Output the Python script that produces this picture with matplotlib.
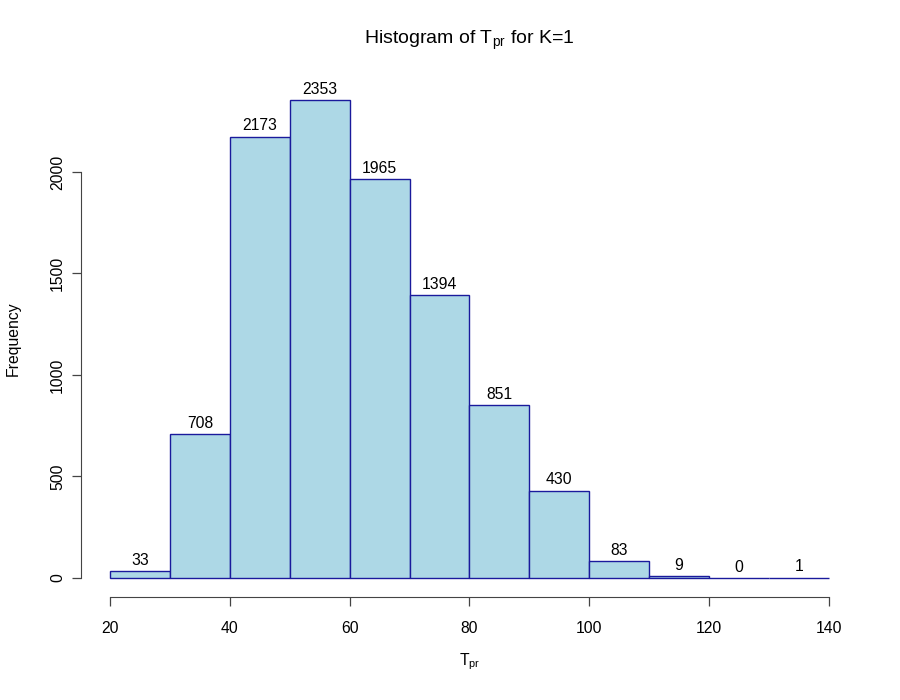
import numpy as np
import matplotlib
matplotlib.use("Agg")
import matplotlib.pyplot as plt

plt.rcParams['font.family'] = ['Liberation Sans', 'DejaVu Sans']
plt.rcParams['mathtext.fontset'] = 'custom'
plt.rcParams['mathtext.rm'] = 'Liberation Sans'

bin_edges = [20, 30, 40, 50, 60, 70, 80, 90, 100, 110, 120, 130, 140]
counts = [33, 708, 2173, 2353, 1965, 1394, 851, 430, 83, 9, 0, 1]
x_ticks = [20, 40, 60, 80, 100, 120, 140]
y_ticks = [0, 500, 1000, 1500, 2000]

fs = 11.3
fig = plt.figure(figsize=(9, 7), dpi=100)
ax = fig.add_axes([0.0902, 0.147, 0.953 - 0.0902, 0.884 - 0.147])
cx = (0.0902 + 0.953) / 2
cy = (0.147 + 0.884) / 2

edges = np.array(bin_edges)
ax.bar(edges[:-1], counts, width=np.diff(edges), align='edge',
       color='#ADD8E6', edgecolor='#1a1a9c', linewidth=1.0)

for left, w, c in zip(edges[:-1], np.diff(edges), counts):
    ax.annotate(str(c), (left + w / 2, c), xytext=(0, 2.5), textcoords='offset points',
                ha='center', va='bottom', fontsize=fs)

ax.set_xlim(15.2, 144.8)
ax.set_ylim(-94.1, 2447.1)
ax.set_xticks(x_ticks)
ax.set_yticks(y_ticks)
ax.set_yticklabels([str(v) for v in y_ticks], rotation=90, va='center')
for s in ['top', 'right']:
    ax.spines[s].set_visible(False)
ax.spines['bottom'].set_bounds(20, 140)
ax.spines['left'].set_bounds(0, 2000)
ax.spines['left'].set_color('#444444')
ax.spines['bottom'].set_color('#444444')
ax.tick_params(length=6.5, width=0.9, color='#444444', labelsize=fs)
ax.tick_params(axis='x', pad=11)
ax.tick_params(axis='y', pad=5)

ax.set_xlabel(r'$\mathregular{T_{pr}}$', fontsize=fs)
ax.set_ylabel('Frequency', fontsize=fs)
ax.xaxis.set_label_coords(cx, (700 - 662) / 700, transform=fig.transFigure)
ax.yaxis.set_label_coords(13.5 / 900, cy, transform=fig.transFigure)
ax.xaxis.label.set_va('center')
ax.yaxis.label.set_va('center')
fig.text(cx, 1 - 40 / 700, r'Histogram of $\mathregular{T_{pr}}$ for K=1',
         fontsize=14, ha='center', va='center')

fig.savefig('out.png', dpi=100)
